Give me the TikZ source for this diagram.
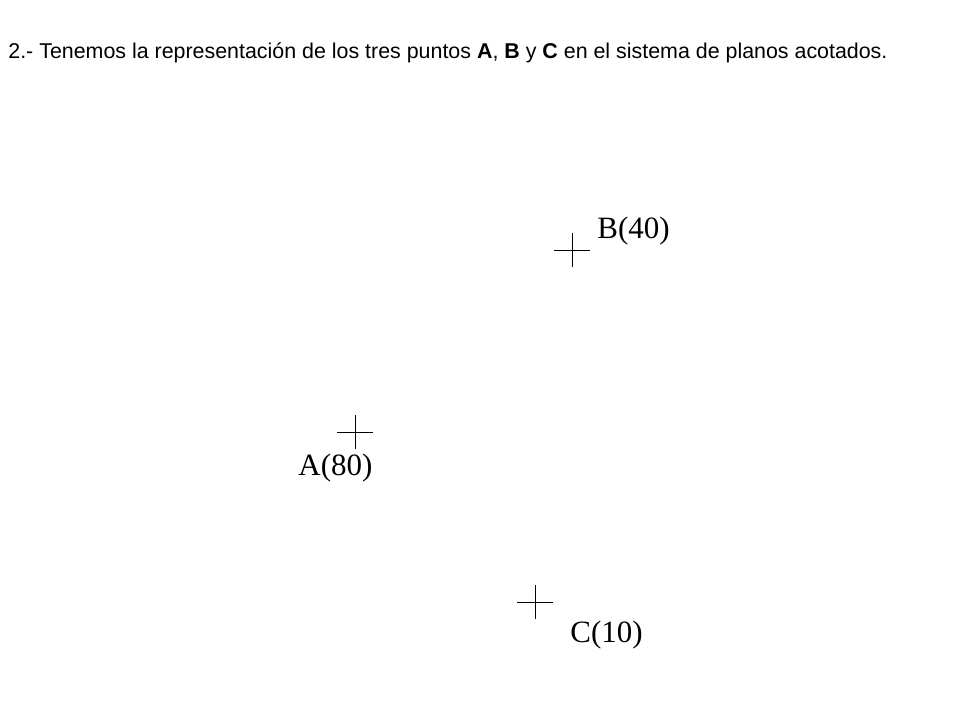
\documentclass[tikz,border=0pt]{standalone}
\usepackage{fontspec}
\setmainfont{Liberation Serif}
\newfontfamily\titlefont{Liberation Sans}
\usetikzlibrary{positioning}

\begin{document}
\begin{tikzpicture}[x=1pt,y=-1pt,line width=0.8pt,
  cota/.style={anchor=base west,inner sep=0pt,font=\fontsize{31}{36}\selectfont},
  cruz/.style={line width=0.9pt}]
\useasboundingbox (0,0) rectangle (960,720);
\node[anchor=base west,inner sep=0pt,font=\titlefont\fontsize{21.4}{25}\selectfont] (titulo) at (8,58)
  {2.- Tenemos la representación de los tres puntos \textbf{A}, \textbf{B} y \textbf{C} en el sistema de planos acotados.};
% puntos
\coordinate (pB) at (572,250);
\coordinate (pA) at (355,432);
\coordinate (pC) at (535,602);
\foreach \p in {pA,pB,pC} {
  \draw[cruz] ([xshift=-18pt]\p) -- ([xshift=18pt]\p);
  \draw[cruz] ([yshift=-17pt]\p) -- ([yshift=17pt]\p);
}
\node[cota] (lB) at (597,238) {B(40)};
\node[cota] (lA) at (298,475) {A(80)};
\node[cota] (lC) at (570,642) {C(10)};
\end{tikzpicture}
\end{document}
